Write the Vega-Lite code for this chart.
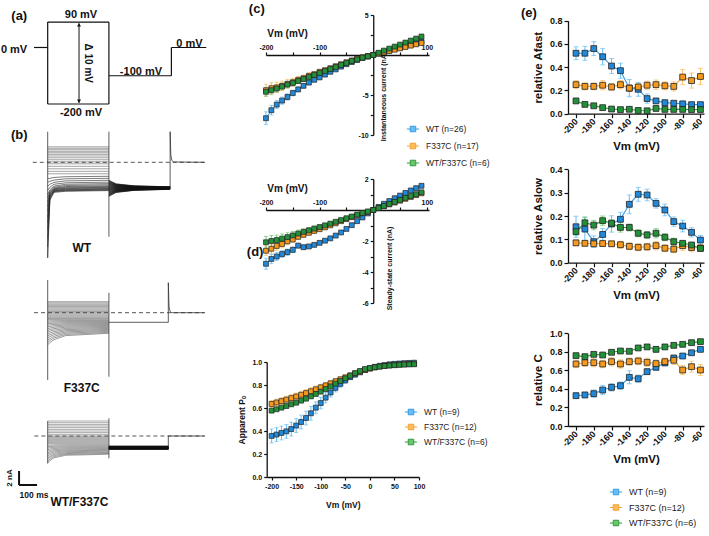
{
"$schema":"https://vega.github.io/schema/vega-lite/v6.json",
"background":"white",
"padding":{"left":0,"top":3,"right":4,"bottom":4},
"autosize":{"type":"pad"},
"config":{
 "view":{"stroke":null},
 "font":"Liberation Sans",
 "axis":{"grid":false,"domainColor":"#111","domainWidth":1.3,"tickColor":"#111","tickWidth":1.2,"tickSize":3,"labelColor":"#111","labelFont":"Liberation Sans","labelFontWeight":"bold","labelFontSize":7,"labelPadding":2,"labelFlush":false,"labelOverlap":false,"titleFont":"Liberation Sans","titleFontWeight":"bold","titleColor":"#111","titleFontSize":10},
 "legend":{"labelFont":"Liberation Sans","labelColor":"#222","padding":0},
 "text":{"font":"Liberation Sans","fontWeight":"bold","color":"#111"}
},
"datasets":{
 "pr":[{"t1":-76,"v1":0,"t2":0,"v2":0},{"t1":0,"v1":90,"t2":0,"v2":-200},{"t1":0,"v1":90,"t2":340,"v2":90},{"t1":0,"v1":-200,"t2":340,"v2":-200},{"t1":340,"v1":90,"t2":340,"v2":-200},{"t1":340,"v1":-100,"t2":687,"v2":-100},{"t1":687,"v1":-100,"t2":687,"v2":0},{"t1":687,"v1":0,"t2":881,"v2":0}],
 "pl":[{"t":185,"v":115,"s":"90 mV"},{"t":185,"v":-233,"s":"-200 mV"},{"t":518,"v":-86,"s":"-100 mV"},{"t":787,"v":11,"s":"0 mV"},{"t":-187,"v":-9,"s":"0 mV"}],
 "gW":[{"t1":0,"i1":4.37,"t2":0,"i2":-13.67},{"t1":340,"i1":4.37,"t2":340,"i2":-10.63},{"t1":680,"i1":-3.6,"t2":680,"i2":4.37},{"t1":680,"i1":4.37,"t2":684,"i2":1.0},{"t1":684,"i1":1.0,"t2":690,"i2":0.25},{"t1":690,"i1":0.25,"t2":700,"i2":0.05},{"t1":700,"i1":0.05,"t2":872,"i2":0}],
 "gF":[{"t1":0,"i1":4.67,"t2":0,"i2":-9.61},{"t1":340,"i1":2.86,"t2":340,"i2":-9.14},{"t1":340,"i1":-1.37,"t2":670,"i2":-1.37},{"t1":670,"i1":-1.37,"t2":670,"i2":4.29},{"t1":670,"i1":4.29,"t2":674,"i2":0.8},{"t1":674,"i1":0.8,"t2":680,"i2":0.15},{"t1":680,"i1":0.15,"t2":690,"i2":0},{"t1":690,"i1":0,"t2":872,"i2":0}],
 "gM":[{"t1":0,"i1":2.14,"t2":0,"i2":-3.9},{"t1":340,"i1":2.53,"t2":340,"i2":-3.19},{"t1":670,"i1":-1.9,"t2":670,"i2":0},{"t1":670,"i1":0,"t2":872,"i2":0}],
 "sW":[
  {"v":90,"z":2.21,"f":-4.86,"g":-4.31,"h":-4.01,"k":-3.86},
  {"v":80,"z":2.0,"f":-4.78,"g":-4.27,"h":-3.99,"k":-3.85},
  {"v":70,"z":1.79,"f":-4.70,"g":-4.23,"h":-3.97,"k":-3.84},
  {"v":60,"z":1.57,"f":-4.62,"g":-4.18,"h":-3.94,"k":-3.82},
  {"v":50,"z":1.36,"f":-4.54,"g":-4.14,"h":-3.92,"k":-3.81},
  {"v":40,"z":1.14,"f":-4.47,"g":-4.10,"h":-3.90,"k":-3.80},
  {"v":30,"z":0.9,"f":-4.39,"g":-4.06,"h":-3.88,"k":-3.79},
  {"v":20,"z":0.64,"f":-4.31,"g":-4.01,"h":-3.85,"k":-3.77},
  {"v":10,"z":0.36,"f":-4.23,"g":-3.97,"h":-3.83,"k":-3.76},
  {"v":0,"z":0.07,"f":-4.15,"g":-3.93,"h":-3.81,"k":-3.75},
  {"v":-10,"z":-0.21,"f":-4.07,"g":-3.89,"h":-3.79,"k":-3.74},
  {"v":-20,"z":-0.57,"f":-3.99,"g":-3.84,"h":-3.76,"k":-3.72},
  {"v":-30,"z":-0.93,"f":-3.91,"g":-3.80,"h":-3.74,"k":-3.71},
  {"v":-40,"z":-1.29,"f":-3.83,"g":-3.76,"h":-3.72,"k":-3.70},
  {"v":-50,"z":-1.64,"f":-3.75,"g":-3.72,"h":-3.70,"k":-3.69},
  {"v":-60,"a":-2.36,"b":-2.29,"c":-2.17,"d":-2.06,"e":-2.0,"f":-3.68,"g":-3.67,"h":-3.67,"k":-3.67},
  {"v":-70,"a":-2.86,"b":-2.71,"c":-2.54,"d":-2.36,"e":-2.29,"f":-3.60,"g":-3.63,"h":-3.65,"k":-3.66},
  {"v":-80,"a":-3.43,"b":-3.14,"c":-2.86,"d":-2.66,"e":-2.57,"f":-3.52,"g":-3.59,"h":-3.63,"k":-3.65},
  {"v":-90,"a":-4.0,"b":-3.57,"c":-3.14,"d":-2.93,"e":-2.83,"f":-3.44,"g":-3.55,"h":-3.61,"k":-3.64},
  {"v":-100,"a":-4.6,"b":-3.93,"c":-3.4,"d":-3.14,"e":-3.04,"f":-3.36,"g":-3.50,"h":-3.58,"k":-3.62},
  {"v":-110,"a":-5.1,"b":-4.14,"c":-3.57,"d":-3.31,"e":-3.21,"f":-3.28,"g":-3.46,"h":-3.56,"k":-3.61},
  {"v":-120,"a":-5.7,"b":-4.29,"c":-3.69,"d":-3.46,"e":-3.36,"f":-3.20,"g":-3.42,"h":-3.54,"k":-3.60},
  {"v":-130,"a":-6.3,"b":-4.43,"c":-3.79,"d":-3.57,"e":-3.47,"f":-3.12,"g":-3.38,"h":-3.52,"k":-3.59},
  {"v":-140,"a":-7.0,"b":-4.57,"c":-3.86,"d":-3.67,"e":-3.57,"f":-3.04,"g":-3.33,"h":-3.49,"k":-3.57},
  {"v":-150,"a":-7.9,"b":-4.71,"c":-3.93,"d":-3.76,"e":-3.66,"f":-2.96,"g":-3.29,"h":-3.47,"k":-3.56},
  {"v":-160,"a":-8.7,"b":-4.86,"c":-4.0,"d":-3.86,"e":-3.74,"f":-2.89,"g":-3.25,"h":-3.45,"k":-3.55},
  {"v":-170,"a":-9.7,"b":-5.0,"c":-4.07,"d":-3.93,"e":-3.83,"f":-2.81,"g":-3.21,"h":-3.43,"k":-3.54},
  {"v":-180,"a":-10.9,"b":-5.1,"c":-4.14,"d":-4.0,"e":-3.9,"f":-2.73,"g":-3.17,"h":-3.41,"k":-3.53},
  {"v":-190,"a":-12.1,"b":-5.3,"c":-4.2,"d":-4.07,"e":-3.97,"f":-2.65,"g":-3.12,"h":-3.38,"k":-3.51},
  {"v":-200,"a":-13.6,"b":-5.4,"c":-4.3,"d":-4.14,"e":-4.04,"f":-2.57,"g":-3.08,"h":-3.36,"k":-3.50}],
 "sF":[
  {"v":90,"z":1.57},{"v":80,"z":1.4},{"v":70,"z":1.22},{"v":60,"z":1.05},{"v":50,"z":0.87},{"v":40,"z":0.7},{"v":30,"z":0.52},{"v":20,"z":0.35},{"v":10,"z":0.17},{"v":0,"z":0},{"v":-10,"z":-0.17},{"v":-20,"z":-0.34},{"v":-30,"z":-0.5},{"v":-40,"z":-0.67},{"v":-50,"z":-0.83},{"v":-60,"z":-0.98},
  {"v":-70,"a":-1.18,"b":-1.17,"c":-1.15,"d":-1.13,"e":-1.12},
  {"v":-80,"a":-1.37,"b":-1.35,"c":-1.32,"d":-1.28,"e":-1.26},
  {"v":-90,"a":-1.58,"b":-1.54,"c":-1.5,"d":-1.44,"e":-1.4},
  {"v":-100,"a":-1.8,"b":-1.75,"c":-1.68,"d":-1.59,"e":-1.54},
  {"v":-110,"a":-2.03,"b":-1.96,"c":-1.87,"d":-1.75,"e":-1.68},
  {"v":-120,"a":-2.28,"b":-2.19,"c":-2.07,"d":-1.91,"e":-1.82},
  {"v":-130,"a":-2.53,"b":-2.42,"c":-2.27,"d":-2.07,"e":-1.96},
  {"v":-140,"a":-2.79,"b":-2.65,"c":-2.48,"d":-2.24,"e":-2.1},
  {"v":-150,"a":-3.07,"b":-2.9,"c":-2.7,"d":-2.41,"e":-2.24},
  {"v":-160,"a":-3.36,"b":-3.16,"c":-2.92,"d":-2.58,"e":-2.38},
  {"v":-170,"a":-3.65,"b":-3.42,"c":-3.14,"d":-2.75,"e":-2.52},
  {"v":-180,"a":-3.96,"b":-3.7,"c":-3.38,"d":-2.92,"e":-2.66},
  {"v":-190,"a":-4.28,"b":-3.98,"c":-3.61,"d":-3.1,"e":-2.8},
  {"v":-200,"a":-4.6,"b":-4.27,"c":-3.85,"d":-3.27,"e":-2.94}],
 "sM":[
  {"v":90,"z":2.14,"q":-1.9},{"v":80,"z":1.9,"q":-1.88},{"v":70,"z":1.66,"q":-1.87},{"v":60,"z":1.43,"q":-1.85},{"v":50,"z":1.19,"q":-1.84},{"v":40,"z":0.95,"q":-1.82},{"v":30,"z":0.71,"q":-1.81},{"v":20,"z":0.48,"q":-1.79},{"v":10,"z":0.24,"q":-1.78},{"v":0,"z":0,"q":-1.76},{"v":-10,"z":-0.14,"q":-1.75},{"v":-20,"z":-0.28,"q":-1.73},{"v":-30,"z":-0.42,"q":-1.71},{"v":-40,"z":-0.56,"q":-1.7},{"v":-50,"z":-0.7,"q":-1.68},{"v":-60,"z":-0.84,"q":-1.67},{"v":-70,"z":-0.98,"q":-1.65},{"v":-80,"z":-1.12,"q":-1.64},
  {"v":-90,"a":-1.34,"b":-1.32,"c":-1.29,"d":-1.27,"e":-1.26,"q":-1.62},
  {"v":-100,"a":-1.54,"b":-1.5,"c":-1.46,"d":-1.42,"e":-1.4,"q":-1.61},
  {"v":-110,"a":-1.74,"b":-1.68,"c":-1.61,"d":-1.56,"e":-1.53,"q":-1.59},
  {"v":-120,"a":-1.96,"b":-1.87,"c":-1.78,"d":-1.7,"e":-1.66,"q":-1.57},
  {"v":-130,"a":-2.18,"b":-2.06,"c":-1.95,"d":-1.84,"e":-1.79,"q":-1.56},
  {"v":-140,"a":-2.42,"b":-2.27,"c":-2.12,"d":-1.98,"e":-1.92,"q":-1.54},
  {"v":-150,"a":-2.65,"b":-2.47,"c":-2.28,"d":-2.11,"e":-2.04,"q":-1.53},
  {"v":-160,"a":-2.89,"b":-2.67,"c":-2.45,"d":-2.25,"e":-2.16,"q":-1.51},
  {"v":-170,"a":-3.15,"b":-2.89,"c":-2.63,"d":-2.38,"e":-2.28,"q":-1.5},
  {"v":-180,"a":-3.39,"b":-3.09,"c":-2.79,"d":-2.51,"e":-2.39,"q":-1.48},
  {"v":-190,"a":-3.65,"b":-3.31,"c":-2.96,"d":-2.64,"e":-2.5,"q":-1.47},
  {"v":-200,"a":-3.9,"b":-3.51,"c":-3.12,"d":-2.76,"e":-2.6,"q":-1.45}],
 "ci":[
  {"g":"W","v":-200,"m":-7.9,"e":0.8},{"g":"W","v":-190,"m":-6.9,"e":0.6},{"g":"W","v":-180,"m":-6.2,"e":0.5},{"g":"W","v":-170,"m":-5.7,"e":0.45},{"g":"W","v":-160,"m":-5.25,"e":0.4},{"g":"W","v":-150,"m":-4.75,"e":0.35},{"g":"W","v":-140,"m":-4.3,"e":0.3},{"g":"W","v":-130,"m":-3.85,"e":0.28},{"g":"W","v":-120,"m":-3.45,"e":0.25},{"g":"W","v":-110,"m":-3.1,"e":0.22},{"g":"W","v":-100,"m":-2.8,"e":0.2},{"g":"W","v":-90,"m":-2.45,"e":0.18},{"g":"W","v":-80,"m":-2.1,"e":0.15},{"g":"W","v":-70,"m":-1.8,"e":0.13},{"g":"W","v":-60,"m":-1.45,"e":0.12},{"g":"W","v":-50,"m":-1.15,"e":0.1},{"g":"W","v":-40,"m":-0.88,"e":0.08},{"g":"W","v":-30,"m":-0.62,"e":0.07},{"g":"W","v":-20,"m":-0.38,"e":0.06},{"g":"W","v":-10,"m":-0.2,"e":0.05},{"g":"W","v":0,"m":0,"e":0.05},{"g":"W","v":10,"m":0.2,"e":0.06},{"g":"W","v":20,"m":0.38,"e":0.07},{"g":"W","v":30,"m":0.56,"e":0.08},{"g":"W","v":40,"m":0.74,"e":0.1},{"g":"W","v":50,"m":0.92,"e":0.12},{"g":"W","v":60,"m":1.1,"e":0.14},{"g":"W","v":70,"m":1.28,"e":0.16},{"g":"W","v":80,"m":1.46,"e":0.18},{"g":"W","v":90,"m":1.65,"e":0.2},
  {"g":"F","v":-200,"m":-4.4,"e":0.75},{"g":"F","v":-190,"m":-4.15,"e":0.7},{"g":"F","v":-180,"m":-4.05,"e":0.65},{"g":"F","v":-170,"m":-3.85,"e":0.6},{"g":"F","v":-160,"m":-3.6,"e":0.55},{"g":"F","v":-150,"m":-3.4,"e":0.5},{"g":"F","v":-140,"m":-3.1,"e":0.45},{"g":"F","v":-130,"m":-2.9,"e":0.4},{"g":"F","v":-120,"m":-2.6,"e":0.36},{"g":"F","v":-110,"m":-2.4,"e":0.32},{"g":"F","v":-100,"m":-2.1,"e":0.28},{"g":"F","v":-90,"m":-1.9,"e":0.25},{"g":"F","v":-80,"m":-1.65,"e":0.22},{"g":"F","v":-70,"m":-1.4,"e":0.2},{"g":"F","v":-60,"m":-1.15,"e":0.17},{"g":"F","v":-50,"m":-0.9,"e":0.15},{"g":"F","v":-40,"m":-0.68,"e":0.12},{"g":"F","v":-30,"m":-0.45,"e":0.1},{"g":"F","v":-20,"m":-0.28,"e":0.08},{"g":"F","v":-10,"m":-0.12,"e":0.06},{"g":"F","v":0,"m":0,"e":0.05},{"g":"F","v":10,"m":0.16,"e":0.06},{"g":"F","v":20,"m":0.33,"e":0.07},{"g":"F","v":30,"m":0.5,"e":0.08},{"g":"F","v":40,"m":0.66,"e":0.1},{"g":"F","v":50,"m":0.83,"e":0.12},{"g":"F","v":60,"m":1.0,"e":0.14},{"g":"F","v":70,"m":1.17,"e":0.16},{"g":"F","v":80,"m":1.33,"e":0.18},{"g":"F","v":90,"m":1.5,"e":0.2},
  {"g":"M","v":-200,"m":-4.6,"e":0.55},{"g":"M","v":-190,"m":-4.4,"e":0.5},{"g":"M","v":-180,"m":-4.2,"e":0.45},{"g":"M","v":-170,"m":-3.95,"e":0.42},{"g":"M","v":-160,"m":-3.7,"e":0.4},{"g":"M","v":-150,"m":-3.5,"e":0.37},{"g":"M","v":-140,"m":-3.25,"e":0.34},{"g":"M","v":-130,"m":-3.0,"e":0.3},{"g":"M","v":-120,"m":-2.75,"e":0.28},{"g":"M","v":-110,"m":-2.5,"e":0.25},{"g":"M","v":-100,"m":-2.25,"e":0.22},{"g":"M","v":-90,"m":-2.0,"e":0.2},{"g":"M","v":-80,"m":-1.75,"e":0.18},{"g":"M","v":-70,"m":-1.5,"e":0.16},{"g":"M","v":-60,"m":-1.25,"e":0.14},{"g":"M","v":-50,"m":-1.0,"e":0.12},{"g":"M","v":-40,"m":-0.75,"e":0.1},{"g":"M","v":-30,"m":-0.55,"e":0.08},{"g":"M","v":-20,"m":-0.33,"e":0.07},{"g":"M","v":-10,"m":-0.17,"e":0.06},{"g":"M","v":0,"m":0,"e":0.05},{"g":"M","v":10,"m":0.28,"e":0.08},{"g":"M","v":20,"m":0.55,"e":0.1},{"g":"M","v":30,"m":0.8,"e":0.12},{"g":"M","v":40,"m":1.05,"e":0.14},{"g":"M","v":50,"m":1.3,"e":0.17},{"g":"M","v":60,"m":1.55,"e":0.2},{"g":"M","v":70,"m":1.8,"e":0.23},{"g":"M","v":80,"m":2.05,"e":0.26},{"g":"M","v":90,"m":2.3,"e":0.3}],
 "cs":[
  {"g":"W","v":-200,"m":-3.47,"e":0.35},{"g":"W","v":-190,"m":-3.16,"e":0.3},{"g":"W","v":-180,"m":-3.0,"e":0.25},{"g":"W","v":-170,"m":-2.84,"e":0.22},{"g":"W","v":-160,"m":-2.72,"e":0.2},{"g":"W","v":-150,"m":-2.57,"e":0.18},{"g":"W","v":-140,"m":-2.3,"e":0.15},{"g":"W","v":-130,"m":-2.4,"e":0.13},{"g":"W","v":-120,"m":-2.35,"e":0.12},{"g":"W","v":-110,"m":-2.25,"e":0.1},{"g":"W","v":-100,"m":-2.12,"e":0.1},{"g":"W","v":-90,"m":-1.98,"e":0.09},{"g":"W","v":-80,"m":-1.83,"e":0.08},{"g":"W","v":-70,"m":-1.65,"e":0.07},{"g":"W","v":-60,"m":-1.45,"e":0.06},{"g":"W","v":-50,"m":-1.22,"e":0.05},{"g":"W","v":-40,"m":-0.98,"e":0.05},{"g":"W","v":-30,"m":-0.72,"e":0.04},{"g":"W","v":-20,"m":-0.48,"e":0.03},{"g":"W","v":-10,"m":-0.22,"e":0.03},{"g":"W","v":0,"m":0,"e":0.02},{"g":"W","v":10,"m":0.2,"e":0.03},{"g":"W","v":20,"m":0.4,"e":0.04},{"g":"W","v":30,"m":0.58,"e":0.05},{"g":"W","v":40,"m":0.76,"e":0.06},{"g":"W","v":50,"m":0.93,"e":0.07},{"g":"W","v":60,"m":1.1,"e":0.08},{"g":"W","v":70,"m":1.26,"e":0.09},{"g":"W","v":80,"m":1.41,"e":0.1},{"g":"W","v":90,"m":1.56,"e":0.11},
  {"g":"F","v":-200,"m":-2.63,"e":0.32},{"g":"F","v":-190,"m":-2.5,"e":0.3},{"g":"F","v":-180,"m":-2.32,"e":0.28},{"g":"F","v":-170,"m":-2.19,"e":0.25},{"g":"F","v":-160,"m":-2.02,"e":0.22},{"g":"F","v":-150,"m":-1.9,"e":0.2},{"g":"F","v":-140,"m":-1.73,"e":0.18},{"g":"F","v":-130,"m":-1.6,"e":0.16},{"g":"F","v":-120,"m":-1.47,"e":0.14},{"g":"F","v":-110,"m":-1.35,"e":0.12},{"g":"F","v":-100,"m":-1.24,"e":0.11},{"g":"F","v":-90,"m":-1.12,"e":0.1},{"g":"F","v":-80,"m":-0.99,"e":0.09},{"g":"F","v":-70,"m":-0.86,"e":0.08},{"g":"F","v":-60,"m":-0.72,"e":0.07},{"g":"F","v":-50,"m":-0.59,"e":0.06},{"g":"F","v":-40,"m":-0.46,"e":0.05},{"g":"F","v":-30,"m":-0.34,"e":0.04},{"g":"F","v":-20,"m":-0.21,"e":0.03},{"g":"F","v":-10,"m":-0.13,"e":0.03},{"g":"F","v":0,"m":0,"e":0.02},{"g":"F","v":10,"m":0.12,"e":0.03},{"g":"F","v":20,"m":0.24,"e":0.03},{"g":"F","v":30,"m":0.36,"e":0.04},{"g":"F","v":40,"m":0.48,"e":0.05},{"g":"F","v":50,"m":0.6,"e":0.06},{"g":"F","v":60,"m":0.72,"e":0.07},{"g":"F","v":70,"m":0.84,"e":0.08},{"g":"F","v":80,"m":0.96,"e":0.09},{"g":"F","v":90,"m":1.08,"e":0.1},
  {"g":"M","v":-200,"m":-2.08,"e":0.38},{"g":"M","v":-190,"m":-2.0,"e":0.35},{"g":"M","v":-180,"m":-1.94,"e":0.32},{"g":"M","v":-170,"m":-1.85,"e":0.3},{"g":"M","v":-160,"m":-1.75,"e":0.28},{"g":"M","v":-150,"m":-1.64,"e":0.25},{"g":"M","v":-140,"m":-1.52,"e":0.22},{"g":"M","v":-130,"m":-1.41,"e":0.2},{"g":"M","v":-120,"m":-1.31,"e":0.18},{"g":"M","v":-110,"m":-1.2,"e":0.16},{"g":"M","v":-100,"m":-1.1,"e":0.14},{"g":"M","v":-90,"m":-0.99,"e":0.12},{"g":"M","v":-80,"m":-0.88,"e":0.1},{"g":"M","v":-70,"m":-0.76,"e":0.09},{"g":"M","v":-60,"m":-0.65,"e":0.08},{"g":"M","v":-50,"m":-0.53,"e":0.07},{"g":"M","v":-40,"m":-0.42,"e":0.06},{"g":"M","v":-30,"m":-0.3,"e":0.05},{"g":"M","v":-20,"m":-0.19,"e":0.04},{"g":"M","v":-10,"m":-0.09,"e":0.03},{"g":"M","v":0,"m":0,"e":0.02},{"g":"M","v":10,"m":0.13,"e":0.03},{"g":"M","v":20,"m":0.26,"e":0.04},{"g":"M","v":30,"m":0.39,"e":0.05},{"g":"M","v":40,"m":0.52,"e":0.06},{"g":"M","v":50,"m":0.65,"e":0.07},{"g":"M","v":60,"m":0.78,"e":0.08},{"g":"M","v":70,"m":0.9,"e":0.09},{"g":"M","v":80,"m":1.02,"e":0.1},{"g":"M","v":90,"m":1.14,"e":0.11}],
 "po":[
  {"g":"W","v":-200,"m":0.357,"e":0.06},{"g":"W","v":-190,"m":0.369,"e":0.06},{"g":"W","v":-180,"m":0.383,"e":0.06},{"g":"W","v":-170,"m":0.397,"e":0.06},{"g":"W","v":-160,"m":0.417,"e":0.06},{"g":"W","v":-150,"m":0.447,"e":0.06},{"g":"W","v":-140,"m":0.478,"e":0.06},{"g":"W","v":-130,"m":0.513,"e":0.06},{"g":"W","v":-120,"m":0.554,"e":0.06},{"g":"W","v":-110,"m":0.603,"e":0.05},{"g":"W","v":-100,"m":0.643,"e":0.05},{"g":"W","v":-90,"m":0.69,"e":0.045},{"g":"W","v":-80,"m":0.735,"e":0.04},{"g":"W","v":-70,"m":0.775,"e":0.035},{"g":"W","v":-60,"m":0.81,"e":0.03},{"g":"W","v":-50,"m":0.84,"e":0.025},{"g":"W","v":-40,"m":0.868,"e":0.02},{"g":"W","v":-30,"m":0.89,"e":0.018},{"g":"W","v":-20,"m":0.91,"e":0.015},{"g":"W","v":-10,"m":0.93,"e":0.012},{"g":"W","v":0,"m":0.945,"e":0.01},{"g":"W","v":10,"m":0.958,"e":0.008},{"g":"W","v":20,"m":0.967,"e":0.006},{"g":"W","v":30,"m":0.974,"e":0.005},{"g":"W","v":40,"m":0.98,"e":0.005},{"g":"W","v":50,"m":0.984,"e":0.004},{"g":"W","v":60,"m":0.987,"e":0.004},{"g":"W","v":70,"m":0.99,"e":0.003},{"g":"W","v":80,"m":0.992,"e":0.003},{"g":"W","v":90,"m":0.994,"e":0.003},
  {"g":"F","v":-200,"m":0.635,"e":0.03},{"g":"F","v":-190,"m":0.648,"e":0.03},{"g":"F","v":-180,"m":0.66,"e":0.03},{"g":"F","v":-170,"m":0.673,"e":0.03},{"g":"F","v":-160,"m":0.686,"e":0.03},{"g":"F","v":-150,"m":0.7,"e":0.03},{"g":"F","v":-140,"m":0.715,"e":0.03},{"g":"F","v":-130,"m":0.73,"e":0.03},{"g":"F","v":-120,"m":0.746,"e":0.03},{"g":"F","v":-110,"m":0.763,"e":0.028},{"g":"F","v":-100,"m":0.78,"e":0.026},{"g":"F","v":-90,"m":0.797,"e":0.024},{"g":"F","v":-80,"m":0.815,"e":0.022},{"g":"F","v":-70,"m":0.833,"e":0.02},{"g":"F","v":-60,"m":0.85,"e":0.018},{"g":"F","v":-50,"m":0.867,"e":0.016},{"g":"F","v":-40,"m":0.884,"e":0.014},{"g":"F","v":-30,"m":0.9,"e":0.012},{"g":"F","v":-20,"m":0.915,"e":0.01},{"g":"F","v":-10,"m":0.93,"e":0.01},{"g":"F","v":0,"m":0.942,"e":0.008},{"g":"F","v":10,"m":0.952,"e":0.007},{"g":"F","v":20,"m":0.96,"e":0.006},{"g":"F","v":30,"m":0.966,"e":0.005},{"g":"F","v":40,"m":0.971,"e":0.005},{"g":"F","v":50,"m":0.975,"e":0.004},{"g":"F","v":60,"m":0.978,"e":0.004},{"g":"F","v":70,"m":0.981,"e":0.004},{"g":"F","v":80,"m":0.983,"e":0.003},{"g":"F","v":90,"m":0.985,"e":0.003},
  {"g":"M","v":-200,"m":0.577,"e":0.012},{"g":"M","v":-190,"m":0.589,"e":0.012},{"g":"M","v":-180,"m":0.603,"e":0.012},{"g":"M","v":-170,"m":0.617,"e":0.012},{"g":"M","v":-160,"m":0.632,"e":0.012},{"g":"M","v":-150,"m":0.646,"e":0.012},{"g":"M","v":-140,"m":0.664,"e":0.012},{"g":"M","v":-130,"m":0.681,"e":0.012},{"g":"M","v":-120,"m":0.701,"e":0.012},{"g":"M","v":-110,"m":0.722,"e":0.012},{"g":"M","v":-100,"m":0.742,"e":0.012},{"g":"M","v":-90,"m":0.765,"e":0.012},{"g":"M","v":-80,"m":0.788,"e":0.012},{"g":"M","v":-70,"m":0.812,"e":0.012},{"g":"M","v":-60,"m":0.835,"e":0.012},{"g":"M","v":-50,"m":0.858,"e":0.012},{"g":"M","v":-40,"m":0.881,"e":0.01},{"g":"M","v":-30,"m":0.904,"e":0.01},{"g":"M","v":-20,"m":0.922,"e":0.01},{"g":"M","v":-10,"m":0.939,"e":0.008},{"g":"M","v":0,"m":0.948,"e":0.008},{"g":"M","v":10,"m":0.955,"e":0.006},{"g":"M","v":20,"m":0.96,"e":0.006},{"g":"M","v":30,"m":0.965,"e":0.005},{"g":"M","v":40,"m":0.969,"e":0.005},{"g":"M","v":50,"m":0.972,"e":0.005},{"g":"M","v":60,"m":0.975,"e":0.004},{"g":"M","v":70,"m":0.977,"e":0.004},{"g":"M","v":80,"m":0.979,"e":0.004},{"g":"M","v":90,"m":0.98,"e":0.004}],
 "afast":[
  {"g":"W","v":-200,"m":0.52,"e":0.055},{"g":"W","v":-190,"m":0.52,"e":0.06},{"g":"W","v":-180,"m":0.56,"e":0.06},{"g":"W","v":-170,"m":0.49,"e":0.07},{"g":"W","v":-160,"m":0.41,"e":0.065},{"g":"W","v":-150,"m":0.37,"e":0.065},{"g":"W","v":-140,"m":0.22,"e":0.075},{"g":"W","v":-130,"m":0.21,"e":0.06},{"g":"W","v":-120,"m":0.13,"e":0.04},{"g":"W","v":-110,"m":0.11,"e":0.02},{"g":"W","v":-100,"m":0.095,"e":0.015},{"g":"W","v":-90,"m":0.09,"e":0.015},{"g":"W","v":-80,"m":0.085,"e":0.015},{"g":"W","v":-70,"m":0.078,"e":0.015},{"g":"W","v":-60,"m":0.078,"e":0.015},
  {"g":"F","v":-200,"m":0.25,"e":0.035},{"g":"F","v":-190,"m":0.235,"e":0.03},{"g":"F","v":-180,"m":0.235,"e":0.03},{"g":"F","v":-170,"m":0.245,"e":0.04},{"g":"F","v":-160,"m":0.23,"e":0.03},{"g":"F","v":-150,"m":0.25,"e":0.035},{"g":"F","v":-140,"m":0.22,"e":0.03},{"g":"F","v":-130,"m":0.23,"e":0.03},{"g":"F","v":-120,"m":0.245,"e":0.035},{"g":"F","v":-110,"m":0.25,"e":0.04},{"g":"F","v":-100,"m":0.24,"e":0.035},{"g":"F","v":-90,"m":0.235,"e":0.04},{"g":"F","v":-80,"m":0.315,"e":0.065},{"g":"F","v":-70,"m":0.285,"e":0.065},{"g":"F","v":-60,"m":0.32,"e":0.07},
  {"g":"M","v":-200,"m":0.11,"e":0.015},{"g":"M","v":-190,"m":0.08,"e":0.008},{"g":"M","v":-180,"m":0.068,"e":0.008},{"g":"M","v":-170,"m":0.052,"e":0.008},{"g":"M","v":-160,"m":0.04,"e":0.008},{"g":"M","v":-150,"m":0.035,"e":0.008},{"g":"M","v":-140,"m":0.038,"e":0.008},{"g":"M","v":-130,"m":0.028,"e":0.008},{"g":"M","v":-120,"m":0.025,"e":0.008},{"g":"M","v":-110,"m":0.045,"e":0.008},{"g":"M","v":-100,"m":0.037,"e":0.008},{"g":"M","v":-90,"m":0.037,"e":0.008},{"g":"M","v":-80,"m":0.037,"e":0.008},{"g":"M","v":-70,"m":0.035,"e":0.008},{"g":"M","v":-60,"m":0.036,"e":0.008}],
 "aslow":[
  {"g":"W","v":-200,"m":0.154,"e":0.045},{"g":"W","v":-190,"m":0.144,"e":0.05},{"g":"W","v":-180,"m":0.09,"e":0.025},{"g":"W","v":-170,"m":0.121,"e":0.025},{"g":"W","v":-160,"m":0.166,"e":0.035},{"g":"W","v":-150,"m":0.186,"e":0.03},{"g":"W","v":-140,"m":0.25,"e":0.04},{"g":"W","v":-130,"m":0.293,"e":0.03},{"g":"W","v":-120,"m":0.29,"e":0.025},{"g":"W","v":-110,"m":0.254,"e":0.02},{"g":"W","v":-100,"m":0.226,"e":0.025},{"g":"W","v":-90,"m":0.176,"e":0.02},{"g":"W","v":-80,"m":0.157,"e":0.025},{"g":"W","v":-70,"m":0.13,"e":0.02},{"g":"W","v":-60,"m":0.097,"e":0.02},
  {"g":"F","v":-200,"m":0.085,"e":0.012},{"g":"F","v":-190,"m":0.083,"e":0.012},{"g":"F","v":-180,"m":0.081,"e":0.012},{"g":"F","v":-170,"m":0.082,"e":0.012},{"g":"F","v":-160,"m":0.081,"e":0.012},{"g":"F","v":-150,"m":0.077,"e":0.015},{"g":"F","v":-140,"m":0.07,"e":0.015},{"g":"F","v":-130,"m":0.066,"e":0.015},{"g":"F","v":-120,"m":0.068,"e":0.015},{"g":"F","v":-110,"m":0.073,"e":0.018},{"g":"F","v":-100,"m":0.062,"e":0.015},{"g":"F","v":-90,"m":0.058,"e":0.015},{"g":"F","v":-80,"m":0.073,"e":0.02},{"g":"F","v":-70,"m":0.065,"e":0.018},{"g":"F","v":-60,"m":0.063,"e":0.015},
  {"g":"M","v":-200,"m":0.133,"e":0.015},{"g":"M","v":-190,"m":0.171,"e":0.025},{"g":"M","v":-180,"m":0.161,"e":0.02},{"g":"M","v":-170,"m":0.18,"e":0.02},{"g":"M","v":-160,"m":0.169,"e":0.015},{"g":"M","v":-150,"m":0.151,"e":0.02},{"g":"M","v":-140,"m":0.151,"e":0.015},{"g":"M","v":-130,"m":0.126,"e":0.015},{"g":"M","v":-120,"m":0.119,"e":0.015},{"g":"M","v":-110,"m":0.126,"e":0.02},{"g":"M","v":-100,"m":0.109,"e":0.015},{"g":"M","v":-90,"m":0.09,"e":0.015},{"g":"M","v":-80,"m":0.083,"e":0.01},{"g":"M","v":-70,"m":0.076,"e":0.01},{"g":"M","v":-60,"m":0.061,"e":0.008}],
 "relc":[
  {"g":"W","v":-200,"m":0.327,"e":0.03},{"g":"W","v":-190,"m":0.335,"e":0.03},{"g":"W","v":-180,"m":0.349,"e":0.04},{"g":"W","v":-170,"m":0.388,"e":0.05},{"g":"W","v":-160,"m":0.417,"e":0.04},{"g":"W","v":-150,"m":0.435,"e":0.04},{"g":"W","v":-140,"m":0.525,"e":0.07},{"g":"W","v":-130,"m":0.51,"e":0.04},{"g":"W","v":-120,"m":0.586,"e":0.03},{"g":"W","v":-110,"m":0.633,"e":0.03},{"g":"W","v":-100,"m":0.68,"e":0.02},{"g":"W","v":-90,"m":0.734,"e":0.02},{"g":"W","v":-80,"m":0.755,"e":0.02},{"g":"W","v":-70,"m":0.79,"e":0.02},{"g":"W","v":-60,"m":0.827,"e":0.025},
  {"g":"F","v":-200,"m":0.669,"e":0.04},{"g":"F","v":-190,"m":0.683,"e":0.04},{"g":"F","v":-180,"m":0.683,"e":0.045},{"g":"F","v":-170,"m":0.669,"e":0.04},{"g":"F","v":-160,"m":0.694,"e":0.045},{"g":"F","v":-150,"m":0.669,"e":0.045},{"g":"F","v":-140,"m":0.694,"e":0.04},{"g":"F","v":-130,"m":0.701,"e":0.04},{"g":"F","v":-120,"m":0.687,"e":0.045},{"g":"F","v":-110,"m":0.673,"e":0.04},{"g":"F","v":-100,"m":0.694,"e":0.04},{"g":"F","v":-90,"m":0.709,"e":0.045},{"g":"F","v":-80,"m":0.604,"e":0.05},{"g":"F","v":-70,"m":0.64,"e":0.06},{"g":"F","v":-60,"m":0.604,"e":0.06},
  {"g":"M","v":-200,"m":0.759,"e":0.015},{"g":"M","v":-190,"m":0.748,"e":0.015},{"g":"M","v":-180,"m":0.773,"e":0.015},{"g":"M","v":-170,"m":0.766,"e":0.015},{"g":"M","v":-160,"m":0.795,"e":0.015},{"g":"M","v":-150,"m":0.809,"e":0.015},{"g":"M","v":-140,"m":0.806,"e":0.015},{"g":"M","v":-130,"m":0.842,"e":0.015},{"g":"M","v":-120,"m":0.853,"e":0.015},{"g":"M","v":-110,"m":0.827,"e":0.03},{"g":"M","v":-100,"m":0.853,"e":0.02},{"g":"M","v":-90,"m":0.87,"e":0.02},{"g":"M","v":-80,"m":0.881,"e":0.02},{"g":"M","v":-70,"m":0.899,"e":0.015},{"g":"M","v":-60,"m":0.91,"e":0.015}]
},
"columns":3,
"bounds":"flush",
"spacing":0,
"resolve":{"scale":{"color":"independent","fill":"independent","stroke":"independent"}},
"concat":[
  {"width":235,"height":150,"layer":[
   {"data":{"name":"pr"},"mark":{"type":"rule","color":"#111","strokeWidth":1.2},"encoding":{"x":{"field":"t1","type":"quantitative","scale":{"domain":[-176,907],"range":[0,195],"nice":false,"zero":false},"axis":null},"x2":{"field":"t2"},"y":{"field":"v1","type":"quantitative","scale":{"domain":[-239,115],"range":[100,0],"nice":false,"zero":false},"axis":null},"y2":{"field":"v2"}}},
   {"data":{"values":[{"t":174,"lo":-196,"hi":86}]},"mark":{"type":"rule","color":"#111","strokeWidth":1},"encoding":{"x":{"field":"t","type":"quantitative","scale":{"domain":[-176,907],"range":[0,195],"nice":false,"zero":false},"axis":null},"y":{"field":"lo","type":"quantitative","scale":{"domain":[-239,115],"range":[100,0],"nice":false,"zero":false},"axis":null},"y2":{"field":"hi"}}},
   {"data":{"values":[{"t":174,"v":80}]},"mark":{"type":"point","shape":"triangle-up","filled":true,"color":"#111","size":16,"opacity":1},"encoding":{"x":{"field":"t","type":"quantitative","scale":{"domain":[-176,907],"range":[0,195],"nice":false,"zero":false},"axis":null},"y":{"field":"v","type":"quantitative","scale":{"domain":[-239,115],"range":[100,0],"nice":false,"zero":false},"axis":null}}},
   {"data":{"values":[{"t":174,"v":-190}]},"mark":{"type":"point","shape":"triangle-down","filled":true,"color":"#111","size":16,"opacity":1},"encoding":{"x":{"field":"t","type":"quantitative","scale":{"domain":[-176,907],"range":[0,195],"nice":false,"zero":false},"axis":null},"y":{"field":"v","type":"quantitative","scale":{"domain":[-239,115],"range":[100,0],"nice":false,"zero":false},"axis":null}}},
   {"data":{"name":"pl"},"mark":{"type":"text","fontSize":11,"align":"center","baseline":"middle"},"encoding":{"x":{"field":"t","type":"quantitative","scale":{"domain":[-176,907],"range":[0,195],"nice":false,"zero":false},"axis":null},"y":{"field":"v","type":"quantitative","scale":{"domain":[-239,115],"range":[100,0],"nice":false,"zero":false},"axis":null},"text":{"field":"s"}}},
   {"data":{"values":[{"t":226,"v":-56,"s":"Δ 10 mV"}]},"mark":{"type":"text","fontSize":10,"angle":90,"align":"center","baseline":"middle"},"encoding":{"x":{"field":"t","type":"quantitative","scale":{"domain":[-176,907],"range":[0,195],"nice":false,"zero":false},"axis":null},"y":{"field":"v","type":"quantitative","scale":{"domain":[-239,115],"range":[100,0],"nice":false,"zero":false},"axis":null},"text":{"field":"s"}}},
   {"data":{"values":[{"t":-158,"v":112.5,"s":"(a)"}]},"mark":{"type":"text","fontSize":13,"align":"center","baseline":"middle"},"encoding":{"x":{"field":"t","type":"quantitative","scale":{"domain":[-176,907],"range":[0,195],"nice":false,"zero":false},"axis":null},"y":{"field":"v","type":"quantitative","scale":{"domain":[-239,115],"range":[100,0],"nice":false,"zero":false},"axis":null},"text":{"field":"s"}}}
  ]},
  {"width":250,"height":150,"data":{"name":"ci"},
   "encoding":{
    "x":{"field":"v","type":"quantitative","scale":{"domain":[-200,104],"range":[15,178],"nice":false,"zero":false},"axis":{"orient":"top","offset":-40,"values":[-200,-150,-100,-50,0,50,100],"labelExpr":"datum.value%100==0&&datum.value!=0?toString(datum.value):''","title":"Vm (mV)","titleX":36,"titleY":-21.7,"titleAlign":"center","titleBaseline":"middle","titleAngle":0}},
    "y":{"field":"m","type":"quantitative","scale":{"domain":[-10,5],"range":[120,0],"nice":false,"zero":false},"axis":{"offset":-122.24,"values":[-10,-7.5,-5,-2.5,0,2.5,5],"labelExpr":"datum.value%5==0&&datum.value!=0?toString(datum.value):''","title":"Instantaneous current (nA)","titleFontSize":7,"titleX":10.5,"titleY":81,"titleAngle":270,"titleAlign":"center","titleBaseline":"middle"}}},
   "layer":[
    {"mark":{"type":"line","strokeWidth":1},"encoding":{"stroke":{"field":"g","type":"nominal","scale":{"domain":["W","F","M"],"range":["#3a9ae0","#f2a23a","#2f9c3c"]},"legend":{"orient":"none","legendX":155,"legendY":107,"title":null,"symbolType":"M-1,0H-0.45M0.45,0H1M-0.45,-0.45H0.45V0.45H-0.45Z","symbolSize":150,"symbolStrokeWidth":1,"labelFontSize":8.5,"labelOffset":6,"rowPadding":5,"labelExpr":"datum.label=='W'?'WT (n=26)':datum.label=='F'?'F337C (n=17)':'WT/F337C (n=6)'"}}}},
    {"mark":{"type":"errorbar","ticks":{"size":4},"thickness":1},"encoding":{"yError":{"field":"e"},"color":{"field":"g","type":"nominal","scale":{"domain":["W","F","M"],"range":["#64bdf5","#ffbb55","#6cc56c"]},"legend":null}}},
    {"mark":{"type":"point","shape":"square","filled":true,"size":24,"stroke":"#222","strokeWidth":0.7,"opacity":1},"encoding":{"fill":{"field":"g","type":"nominal","scale":{"domain":["W","F","M"],"range":["#2288d8","#f59a1e","#23913a"]},"legend":{"orient":"none","legendX":155,"legendY":107,"title":null,"symbolType":"M-1,0H-0.45M0.45,0H1M-0.45,-0.45H0.45V0.45H-0.45Z","symbolSize":150,"symbolStrokeWidth":1,"labelFontSize":8.5,"labelOffset":6,"rowPadding":5,"labelExpr":"datum.label=='W'?'WT (n=26)':datum.label=='F'?'F337C (n=17)':'WT/F337C (n=6)'"}}}},
    {"data":{"values":[{"v":-232,"m":5.69,"s":"(c)"}]},"mark":{"type":"text","fontSize":13,"align":"left","baseline":"middle"},"encoding":{"text":{"field":"s"}}}
   ]},
  {"width":209,"height":150,"data":{"name":"afast"},
   "encoding":{
    "x":{"field":"v","type":"quantitative","scale":{"domain":[-209,-56],"range":[67,203],"nice":false,"zero":false},"axis":{"offset":-51.3,"values":[-200,-180,-160,-140,-120,-100,-80,-60],"labelExpr":"toString(datum.value)","labelAngle":-45,"labelAlign":"right","labelBaseline":"middle","labelFontSize":9,"tickSize":4,"title":"Vm (mV)","titleFontSize":11.5,"titlePadding":5}},
    "y":{"field":"m","type":"quantitative","scale":{"domain":[0,0.8],"range":[98.7,5.7],"nice":false,"zero":false},"axis":{"offset":-67,"values":[0,0.2,0.4,0.6,0.8],"format":".1f","labelFontSize":9,"tickSize":4,"title":"relative Afast","titleFontSize":11.5,"titlePadding":6}}},
   "layer":[
    {"mark":{"type":"line","strokeWidth":1.1},"encoding":{"stroke":{"field":"g","type":"nominal","scale":{"domain":["W","F","M"],"range":["#3a9ae0","#f2a23a","#2f9c3c"]},"legend":null}}},
    {"mark":{"type":"errorbar","ticks":{"size":5},"thickness":1},"encoding":{"yError":{"field":"e"},"color":{"field":"g","type":"nominal","scale":{"domain":["W","F","M"],"range":["#64bdf5","#ffbb55","#6cc56c"]},"legend":null}}},
    {"mark":{"type":"point","shape":"square","filled":true,"size":34,"stroke":"#222","strokeWidth":0.8,"opacity":1},"encoding":{"fill":{"field":"g","type":"nominal","scale":{"domain":["W","F","M"],"range":["#2288d8","#f59a1e","#23913a"]},"legend":null}}},
    {"data":{"values":[{"v":-262,"m":0.87,"s":"(e)"}]},"mark":{"type":"text","fontSize":13,"align":"left","baseline":"middle"},"encoding":{"text":{"field":"s"}}}
   ]},

  {"width":235,"height":150,"layer":[
   {"data":{"values":[{"t1":-83,"t2":872}]},"mark":{"type":"rule","color":"#555","strokeDash":[4,3],"strokeWidth":1},"encoding":{"x":{"field":"t1","type":"quantitative","scale":{"domain":[-176,907],"range":[0,195],"nice":false,"zero":false},"axis":null},"x2":{"field":"t2"},"y":{"datum":0,"type":"quantitative","scale":{"domain":[-15,5],"range":[102.3,-37.7],"nice":false,"zero":false},"axis":null}}},
   {"data":{"name":"gW"},"mark":{"type":"rule","color":"#333","strokeWidth":0.8},"encoding":{"x":{"field":"t1","type":"quantitative","scale":{"domain":[-176,907],"range":[0,195],"nice":false,"zero":false},"axis":null},"x2":{"field":"t2"},"y":{"field":"i1","type":"quantitative","scale":{"domain":[-15,5],"range":[102.3,-37.7],"nice":false,"zero":false},"axis":null},"y2":{"field":"i2"}}},
   {"data":{"name":"sW"},"mark":{"type":"rule","color":"#444","strokeWidth":0.5},"encoding":{"x":{"datum":0,"type":"quantitative","scale":{"domain":[-176,907],"range":[0,195],"nice":false,"zero":false},"axis":null},"x2":{"datum":340},"y":{"field":"z","type":"quantitative","scale":{"domain":[-15,5],"range":[102.3,-37.7],"nice":false,"zero":false},"axis":null}}},
   {"data":{"name":"sW"},"mark":{"type":"rule","color":"#222","strokeWidth":0.6},"encoding":{"x":{"datum":0,"type":"quantitative","scale":{"domain":[-176,907],"range":[0,195],"nice":false,"zero":false},"axis":null},"x2":{"datum":12},"y":{"field":"a","type":"quantitative","scale":{"domain":[-15,5],"range":[102.3,-37.7],"nice":false,"zero":false},"axis":null},"y2":{"field":"b"}}},
   {"data":{"name":"sW"},"mark":{"type":"rule","color":"#222","strokeWidth":0.6},"encoding":{"x":{"datum":12,"type":"quantitative","scale":{"domain":[-176,907],"range":[0,195],"nice":false,"zero":false},"axis":null},"x2":{"datum":35},"y":{"field":"b","type":"quantitative","scale":{"domain":[-15,5],"range":[102.3,-37.7],"nice":false,"zero":false},"axis":null},"y2":{"field":"c"}}},
   {"data":{"name":"sW"},"mark":{"type":"rule","color":"#222","strokeWidth":0.6},"encoding":{"x":{"datum":35,"type":"quantitative","scale":{"domain":[-176,907],"range":[0,195],"nice":false,"zero":false},"axis":null},"x2":{"datum":100},"y":{"field":"c","type":"quantitative","scale":{"domain":[-15,5],"range":[102.3,-37.7],"nice":false,"zero":false},"axis":null},"y2":{"field":"d"}}},
   {"data":{"name":"sW"},"mark":{"type":"rule","color":"#222","strokeWidth":0.6},"encoding":{"x":{"datum":100,"type":"quantitative","scale":{"domain":[-176,907],"range":[0,195],"nice":false,"zero":false},"axis":null},"x2":{"datum":340},"y":{"field":"d","type":"quantitative","scale":{"domain":[-15,5],"range":[102.3,-37.7],"nice":false,"zero":false},"axis":null},"y2":{"field":"e"}}},
   {"data":{"name":"sW"},"mark":{"type":"rule","color":"#111","strokeWidth":0.6},"encoding":{"x":{"datum":340,"type":"quantitative","scale":{"domain":[-176,907],"range":[0,195],"nice":false,"zero":false},"axis":null},"x2":{"datum":380},"y":{"field":"f","type":"quantitative","scale":{"domain":[-15,5],"range":[102.3,-37.7],"nice":false,"zero":false},"axis":null},"y2":{"field":"g"}}},
   {"data":{"name":"sW"},"mark":{"type":"rule","color":"#111","strokeWidth":0.6},"encoding":{"x":{"datum":380,"type":"quantitative","scale":{"domain":[-176,907],"range":[0,195],"nice":false,"zero":false},"axis":null},"x2":{"datum":480},"y":{"field":"g","type":"quantitative","scale":{"domain":[-15,5],"range":[102.3,-37.7],"nice":false,"zero":false},"axis":null},"y2":{"field":"h"}}},
   {"data":{"name":"sW"},"mark":{"type":"rule","color":"#111","strokeWidth":0.6},"encoding":{"x":{"datum":480,"type":"quantitative","scale":{"domain":[-176,907],"range":[0,195],"nice":false,"zero":false},"axis":null},"x2":{"datum":680},"y":{"field":"h","type":"quantitative","scale":{"domain":[-15,5],"range":[102.3,-37.7],"nice":false,"zero":false},"axis":null},"y2":{"field":"k"}}},
   {"data":{"values":[{"t":189,"i":-12.29,"s":"WT"}]},"mark":{"type":"text","fontSize":12,"align":"center","baseline":"middle"},"encoding":{"x":{"field":"t","type":"quantitative","scale":{"domain":[-176,907],"range":[0,195],"nice":false,"zero":false},"axis":null},"y":{"field":"i","type":"quantitative","scale":{"domain":[-15,5],"range":[102.3,-37.7],"nice":false,"zero":false},"axis":null},"text":{"field":"s"}}},
   {"data":{"values":[{"t":-158,"i":3.9,"s":"(b)"}]},"mark":{"type":"text","fontSize":13,"align":"center","baseline":"middle"},"encoding":{"x":{"field":"t","type":"quantitative","scale":{"domain":[-176,907],"range":[0,195],"nice":false,"zero":false},"axis":null},"y":{"field":"i","type":"quantitative","scale":{"domain":[-15,5],"range":[102.3,-37.7],"nice":false,"zero":false},"axis":null},"text":{"field":"s"}}}
  ]},
  {"width":250,"height":150,"data":{"name":"cs"},
   "encoding":{
    "x":{"field":"v","type":"quantitative","scale":{"domain":[-200,104],"range":[15,178],"nice":false,"zero":false},"axis":{"orient":"top","offset":-45,"values":[-200,-150,-100,-50,0,50,100],"labelExpr":"datum.value%100==0&&datum.value!=0?toString(datum.value):''","title":"Vm (mV)","titleX":36,"titleY":-21.7,"titleAlign":"center","titleBaseline":"middle","titleAngle":0}},
    "y":{"field":"m","type":"quantitative","scale":{"domain":[-6,2],"range":[138,14],"nice":false,"zero":false},"axis":{"offset":-122.24,"values":[-6,-5,-4,-3,-2,-1,0,1,2],"labelExpr":"datum.value%2==0&&datum.value!=0?toString(datum.value):''","title":"Steady-state current (nA)","titleFontSize":7,"titleX":16,"titleY":103,"titleAngle":270,"titleAlign":"center","titleBaseline":"middle"}}},
   "layer":[
    {"mark":{"type":"line","strokeWidth":1},"encoding":{"stroke":{"field":"g","type":"nominal","scale":{"domain":["W","F","M"],"range":["#3a9ae0","#f2a23a","#2f9c3c"]},"legend":null}}},
    {"mark":{"type":"errorbar","ticks":{"size":4},"thickness":1},"encoding":{"yError":{"field":"e"},"color":{"field":"g","type":"nominal","scale":{"domain":["W","F","M"],"range":["#64bdf5","#ffbb55","#6cc56c"]},"legend":null}}},
    {"mark":{"type":"point","shape":"square","filled":true,"size":24,"stroke":"#222","strokeWidth":0.7,"opacity":1},"encoding":{"fill":{"field":"g","type":"nominal","scale":{"domain":["W","F","M"],"range":["#2288d8","#f59a1e","#23913a"]},"legend":null}}}
   ]},
  {"width":209,"height":150,"data":{"name":"aslow"},
   "encoding":{
    "x":{"field":"v","type":"quantitative","scale":{"domain":[-209,-56],"range":[67,203],"nice":false,"zero":false},"axis":{"offset":-52.3,"values":[-200,-180,-160,-140,-120,-100,-80,-60],"labelExpr":"toString(datum.value)","labelAngle":-45,"labelAlign":"right","labelBaseline":"middle","labelFontSize":9,"tickSize":4,"title":"Vm (mV)","titleFontSize":11.5,"titlePadding":5}},
    "y":{"field":"m","type":"quantitative","scale":{"domain":[0,0.4],"range":[97.7,4.3],"nice":false,"zero":false},"axis":{"offset":-67,"values":[0,0.1,0.2,0.3,0.4],"format":".1f","labelFontSize":9,"tickSize":4,"title":"relative Aslow","titleFontSize":11.5,"titlePadding":6}}},
   "layer":[
    {"mark":{"type":"line","strokeWidth":1.1},"encoding":{"stroke":{"field":"g","type":"nominal","scale":{"domain":["W","F","M"],"range":["#3a9ae0","#f2a23a","#2f9c3c"]},"legend":null}}},
    {"mark":{"type":"errorbar","ticks":{"size":5},"thickness":1},"encoding":{"yError":{"field":"e"},"color":{"field":"g","type":"nominal","scale":{"domain":["W","F","M"],"range":["#64bdf5","#ffbb55","#6cc56c"]},"legend":null}}},
    {"mark":{"type":"point","shape":"square","filled":true,"size":34,"stroke":"#222","strokeWidth":0.8,"opacity":1},"encoding":{"fill":{"field":"g","type":"nominal","scale":{"domain":["W","F","M"],"range":["#2288d8","#f59a1e","#23913a"]},"legend":null}}}
   ]},

  {"width":235,"height":125,"layer":[
   {"data":{"values":[{"t1":-76,"t2":872}]},"mark":{"type":"rule","color":"#555","strokeDash":[4,3],"strokeWidth":1},"encoding":{"x":{"field":"t1","type":"quantitative","scale":{"domain":[-176,907],"range":[0,195],"nice":false,"zero":false},"axis":null},"x2":{"field":"t2"},"y":{"datum":0,"type":"quantitative","scale":{"domain":[-12,5],"range":[81.7,-37.3],"nice":false,"zero":false},"axis":null}}},
   {"data":{"name":"gF"},"mark":{"type":"rule","color":"#333","strokeWidth":0.8},"encoding":{"x":{"field":"t1","type":"quantitative","scale":{"domain":[-176,907],"range":[0,195],"nice":false,"zero":false},"axis":null},"x2":{"field":"t2"},"y":{"field":"i1","type":"quantitative","scale":{"domain":[-12,5],"range":[81.7,-37.3],"nice":false,"zero":false},"axis":null},"y2":{"field":"i2"}}},
   {"data":{"name":"sF"},"mark":{"type":"rule","color":"#444","strokeWidth":0.5},"encoding":{"x":{"datum":0,"type":"quantitative","scale":{"domain":[-176,907],"range":[0,195],"nice":false,"zero":false},"axis":null},"x2":{"datum":340},"y":{"field":"z","type":"quantitative","scale":{"domain":[-12,5],"range":[81.7,-37.3],"nice":false,"zero":false},"axis":null}}},
   {"data":{"name":"sF"},"mark":{"type":"rule","color":"#333","strokeWidth":0.5},"encoding":{"x":{"datum":0,"type":"quantitative","scale":{"domain":[-176,907],"range":[0,195],"nice":false,"zero":false},"axis":null},"x2":{"datum":12},"y":{"field":"a","type":"quantitative","scale":{"domain":[-12,5],"range":[81.7,-37.3],"nice":false,"zero":false},"axis":null},"y2":{"field":"b"}}},
   {"data":{"name":"sF"},"mark":{"type":"rule","color":"#333","strokeWidth":0.5},"encoding":{"x":{"datum":12,"type":"quantitative","scale":{"domain":[-176,907],"range":[0,195],"nice":false,"zero":false},"axis":null},"x2":{"datum":35},"y":{"field":"b","type":"quantitative","scale":{"domain":[-12,5],"range":[81.7,-37.3],"nice":false,"zero":false},"axis":null},"y2":{"field":"c"}}},
   {"data":{"name":"sF"},"mark":{"type":"rule","color":"#333","strokeWidth":0.5},"encoding":{"x":{"datum":35,"type":"quantitative","scale":{"domain":[-176,907],"range":[0,195],"nice":false,"zero":false},"axis":null},"x2":{"datum":100},"y":{"field":"c","type":"quantitative","scale":{"domain":[-12,5],"range":[81.7,-37.3],"nice":false,"zero":false},"axis":null},"y2":{"field":"d"}}},
   {"data":{"name":"sF"},"mark":{"type":"rule","color":"#333","strokeWidth":0.5},"encoding":{"x":{"datum":100,"type":"quantitative","scale":{"domain":[-176,907],"range":[0,195],"nice":false,"zero":false},"axis":null},"x2":{"datum":340},"y":{"field":"d","type":"quantitative","scale":{"domain":[-12,5],"range":[81.7,-37.3],"nice":false,"zero":false},"axis":null},"y2":{"field":"e"}}},
   {"data":{"values":[{"t":189,"i":-10.8,"s":"F337C"}]},"mark":{"type":"text","fontSize":12,"align":"center","baseline":"middle"},"encoding":{"x":{"field":"t","type":"quantitative","scale":{"domain":[-176,907],"range":[0,195],"nice":false,"zero":false},"axis":null},"y":{"field":"i","type":"quantitative","scale":{"domain":[-12,5],"range":[81.7,-37.3],"nice":false,"zero":false},"axis":null},"text":{"field":"s"}}}
  ]},
  {"width":250,"height":125,"data":{"name":"po"},
   "encoding":{
    "x":{"field":"v","type":"quantitative","scale":{"domain":[-210,100],"range":[15.7,168],"nice":false,"zero":false},"axis":{"offset":37,"values":[-200,-150,-100,-50,0,50,100],"labelExpr":"toString(datum.value)","title":"Vm (mV)","titleFontSize":8.5,"titlePadding":11}},
    "y":{"field":"m","type":"quantitative","scale":{"domain":[0,1],"range":[162,47],"nice":false,"zero":false},"axis":{"offset":-15.7,"values":[0,0.2,0.4,0.6,0.8,1],"format":".1f","title":"Apparent Pₒ","titleFontSize":8.5,"titlePadding":5}}},
   "layer":[
    {"data":{"values":[{"v":0}]},"mark":{"type":"rule","color":"#999","strokeDash":[2,2],"strokeWidth":0.8},"encoding":{"y":{"datum":0},"y2":{"datum":1}}},
    {"mark":{"type":"line","strokeWidth":1},"encoding":{"stroke":{"field":"g","type":"nominal","scale":{"domain":["W","F","M"],"range":["#3a9ae0","#f2a23a","#2f9c3c"]},"legend":{"orient":"none","legendX":153,"legendY":90,"title":null,"symbolType":"M-1,0H-0.45M0.45,0H1M-0.45,-0.45H0.45V0.45H-0.45Z","symbolSize":150,"symbolStrokeWidth":1,"labelFontSize":8.5,"labelOffset":6,"rowPadding":3,"labelExpr":"datum.label=='W'?'WT (n=9)':datum.label=='F'?'F337C (n=12)':'WT/F337C (n=6)'"}}}},
    {"mark":{"type":"errorbar","ticks":{"size":4},"thickness":1},"encoding":{"yError":{"field":"e"},"color":{"field":"g","type":"nominal","scale":{"domain":["W","F","M"],"range":["#64bdf5","#ffbb55","#6cc56c"]},"legend":null}}},
    {"mark":{"type":"point","shape":"square","filled":true,"size":24,"stroke":"#222","strokeWidth":0.7,"opacity":1},"encoding":{"fill":{"field":"g","type":"nominal","scale":{"domain":["W","F","M"],"range":["#2288d8","#f59a1e","#23913a"]},"legend":{"orient":"none","legendX":153,"legendY":90,"title":null,"symbolType":"M-1,0H-0.45M0.45,0H1M-0.45,-0.45H0.45V0.45H-0.45Z","symbolSize":150,"symbolStrokeWidth":1,"labelFontSize":8.5,"labelOffset":6,"rowPadding":3,"labelExpr":"datum.label=='W'?'WT (n=9)':datum.label=='F'?'F337C (n=12)':'WT/F337C (n=6)'"}}}},
    {"data":{"values":[{"v":-250.5,"m":1.957,"s":"(d)"}]},"mark":{"type":"text","fontSize":13,"align":"left","baseline":"middle"},"encoding":{"text":{"field":"s"}}}
   ]},
  {"width":209,"height":125,"data":{"name":"relc"},
   "encoding":{
    "x":{"field":"v","type":"quantitative","scale":{"domain":[-209,-56],"range":[67,203],"nice":false,"zero":false},"axis":{"offset":-14,"values":[-200,-180,-160,-140,-120,-100,-80,-60],"labelExpr":"toString(datum.value)","labelAngle":-45,"labelAlign":"right","labelBaseline":"middle","labelFontSize":9,"tickSize":4,"title":"Vm (mV)","titleFontSize":11.5,"titlePadding":5}},
    "y":{"field":"m","type":"quantitative","scale":{"domain":[0,1],"range":[111,18.3],"nice":false,"zero":false},"axis":{"offset":-67,"values":[0,0.2,0.4,0.6,0.8,1],"format":".1f","labelFontSize":9,"tickSize":4,"title":"relative C","titleFontSize":11.5,"titlePadding":6}}},
   "layer":[
    {"mark":{"type":"line","strokeWidth":1.1},"encoding":{"stroke":{"field":"g","type":"nominal","scale":{"domain":["W","F","M"],"range":["#3a9ae0","#f2a23a","#2f9c3c"]},"legend":{"orient":"none","legendX":108,"legendY":170,"title":null,"symbolType":"M-1,0H-0.45M0.45,0H1M-0.45,-0.45H0.45V0.45H-0.45Z","symbolSize":150,"symbolStrokeWidth":1,"labelFontSize":9,"labelOffset":6,"rowPadding":3.5,"labelExpr":"datum.label=='W'?'WT (n=9)':datum.label=='F'?'F337C (n=12)':'WT/F337C (n=6)'"}}}},
    {"mark":{"type":"errorbar","ticks":{"size":5},"thickness":1},"encoding":{"yError":{"field":"e"},"color":{"field":"g","type":"nominal","scale":{"domain":["W","F","M"],"range":["#64bdf5","#ffbb55","#6cc56c"]},"legend":null}}},
    {"mark":{"type":"point","shape":"square","filled":true,"size":34,"stroke":"#222","strokeWidth":0.8,"opacity":1},"encoding":{"fill":{"field":"g","type":"nominal","scale":{"domain":["W","F","M"],"range":["#2288d8","#f59a1e","#23913a"]},"legend":{"orient":"none","legendX":108,"legendY":170,"title":null,"symbolType":"M-1,0H-0.45M0.45,0H1M-0.45,-0.45H0.45V0.45H-0.45Z","symbolSize":150,"symbolStrokeWidth":1,"labelFontSize":9,"labelOffset":6,"rowPadding":3.5,"labelExpr":"datum.label=='W'?'WT (n=9)':datum.label=='F'?'F337C (n=12)':'WT/F337C (n=6)'"}}}}
   ]},

  {"width":235,"height":80,"layer":[
   {"data":{"values":[{"t1":-74,"t2":872}]},"mark":{"type":"rule","color":"#555","strokeDash":[4,3],"strokeWidth":1},"encoding":{"x":{"field":"t1","type":"quantitative","scale":{"domain":[-176,907],"range":[0,195],"nice":false,"zero":false},"axis":null},"x2":{"field":"t2"},"y":{"datum":0,"type":"quantitative","scale":{"domain":[-10,4],"range":[66,-32],"nice":false,"zero":false},"axis":null}}},
   {"data":{"name":"gM"},"mark":{"type":"rule","color":"#333","strokeWidth":0.8},"encoding":{"x":{"field":"t1","type":"quantitative","scale":{"domain":[-176,907],"range":[0,195],"nice":false,"zero":false},"axis":null},"x2":{"field":"t2"},"y":{"field":"i1","type":"quantitative","scale":{"domain":[-10,4],"range":[66,-32],"nice":false,"zero":false},"axis":null},"y2":{"field":"i2"}}},
   {"data":{"name":"sM"},"mark":{"type":"rule","color":"#555","strokeWidth":0.5},"encoding":{"x":{"datum":0,"type":"quantitative","scale":{"domain":[-176,907],"range":[0,195],"nice":false,"zero":false},"axis":null},"x2":{"datum":340},"y":{"field":"z","type":"quantitative","scale":{"domain":[-10,4],"range":[66,-32],"nice":false,"zero":false},"axis":null}}},
   {"data":{"name":"sM"},"mark":{"type":"rule","color":"#444","strokeWidth":0.5},"encoding":{"x":{"datum":0,"type":"quantitative","scale":{"domain":[-176,907],"range":[0,195],"nice":false,"zero":false},"axis":null},"x2":{"datum":12},"y":{"field":"a","type":"quantitative","scale":{"domain":[-10,4],"range":[66,-32],"nice":false,"zero":false},"axis":null},"y2":{"field":"b"}}},
   {"data":{"name":"sM"},"mark":{"type":"rule","color":"#444","strokeWidth":0.5},"encoding":{"x":{"datum":12,"type":"quantitative","scale":{"domain":[-176,907],"range":[0,195],"nice":false,"zero":false},"axis":null},"x2":{"datum":35},"y":{"field":"b","type":"quantitative","scale":{"domain":[-10,4],"range":[66,-32],"nice":false,"zero":false},"axis":null},"y2":{"field":"c"}}},
   {"data":{"name":"sM"},"mark":{"type":"rule","color":"#444","strokeWidth":0.5},"encoding":{"x":{"datum":35,"type":"quantitative","scale":{"domain":[-176,907],"range":[0,195],"nice":false,"zero":false},"axis":null},"x2":{"datum":100},"y":{"field":"c","type":"quantitative","scale":{"domain":[-10,4],"range":[66,-32],"nice":false,"zero":false},"axis":null},"y2":{"field":"d"}}},
   {"data":{"name":"sM"},"mark":{"type":"rule","color":"#444","strokeWidth":0.5},"encoding":{"x":{"datum":100,"type":"quantitative","scale":{"domain":[-176,907],"range":[0,195],"nice":false,"zero":false},"axis":null},"x2":{"datum":340},"y":{"field":"d","type":"quantitative","scale":{"domain":[-10,4],"range":[66,-32],"nice":false,"zero":false},"axis":null},"y2":{"field":"e"}}},
   {"data":{"name":"sM"},"mark":{"type":"rule","color":"#111","strokeWidth":0.6},"encoding":{"x":{"datum":340,"type":"quantitative","scale":{"domain":[-176,907],"range":[0,195],"nice":false,"zero":false},"axis":null},"x2":{"datum":670},"y":{"field":"q","type":"quantitative","scale":{"domain":[-10,4],"range":[66,-32],"nice":false,"zero":false},"axis":null}}},
   {"data":{"values":[{"t1":-159,"i1":-5.0,"t2":-159,"i2":-7.0},{"t1":-159,"i1":-7.0,"t2":-59,"i2":-7.0}]},"mark":{"type":"rule","color":"#111","strokeWidth":2},"encoding":{"x":{"field":"t1","type":"quantitative","scale":{"domain":[-176,907],"range":[0,195],"nice":false,"zero":false},"axis":null},"x2":{"field":"t2"},"y":{"field":"i1","type":"quantitative","scale":{"domain":[-10,4],"range":[66,-32],"nice":false,"zero":false},"axis":null},"y2":{"field":"i2"}}},
   {"data":{"values":[{"t":176,"i":-9.47,"s":"WT/F337C"}]},"mark":{"type":"text","fontSize":12,"align":"center","baseline":"middle"},"encoding":{"x":{"field":"t","type":"quantitative","scale":{"domain":[-176,907],"range":[0,195],"nice":false,"zero":false},"axis":null},"y":{"field":"i","type":"quantitative","scale":{"domain":[-10,4],"range":[66,-32],"nice":false,"zero":false},"axis":null},"text":{"field":"s"}}},
   {"data":{"values":[{"t":-76,"i":-8.43,"s":"100 ms"}]},"mark":{"type":"text","fontSize":8.5,"align":"center","baseline":"middle"},"encoding":{"x":{"field":"t","type":"quantitative","scale":{"domain":[-176,907],"range":[0,195],"nice":false,"zero":false},"axis":null},"y":{"field":"i","type":"quantitative","scale":{"domain":[-10,4],"range":[66,-32],"nice":false,"zero":false},"axis":null},"text":{"field":"s"}}},
   {"data":{"values":[{"t":-207,"i":-6.0,"s":"2 nA"}]},"mark":{"type":"text","fontSize":8,"angle":270,"align":"center","baseline":"middle"},"encoding":{"x":{"field":"t","type":"quantitative","scale":{"domain":[-176,907],"range":[0,195],"nice":false,"zero":false},"axis":null},"y":{"field":"i","type":"quantitative","scale":{"domain":[-10,4],"range":[66,-32],"nice":false,"zero":false},"axis":null},"text":{"field":"s"}}}
  ]}
]
}
